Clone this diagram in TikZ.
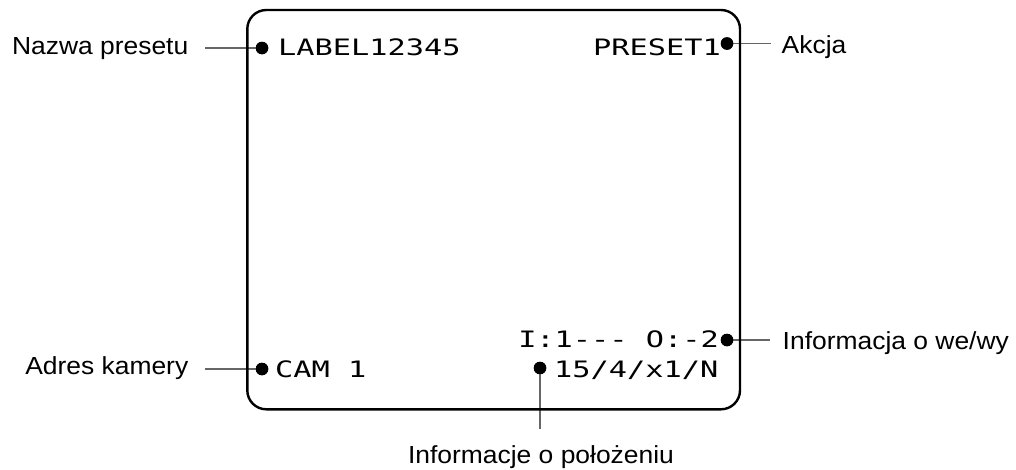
\documentclass[tikz,border=0pt]{standalone}
\usepackage{fontspec}
\setmainfont{Liberation Sans}
\newfontfamily\lblfont[FakeStretch=1.07]{Liberation Sans}
\newfontfamily\osdfont[FakeStretch=1.34]{DejaVu Sans Mono}
\begin{document}
\begin{tikzpicture}[x=1pt,y=-1pt,
  lbl/.style={inner sep=0pt,font=\lblfont\fontsize{24.7}{30}\selectfont},
  osd/.style={inner sep=0pt,font=\osdfont\fontsize{22.6}{27}\selectfont},
  dot/.style={circle,fill=black,inner sep=0pt,minimum size=12.5pt},
  leader/.style={draw=black!60,line width=1.4pt},
  frame/.style={draw=black,line width=2.4pt,rounded corners=19pt}]
\useasboundingbox (0,0) rectangle (1016,469);
% dots
\node[dot] (d1) at (262,48) {};
\node[dot] (d2) at (727,43.5) {};
\node[dot] (d3) at (727,340) {};
\node[dot] (d4) at (262,369) {};
\node[dot] (d5) at (540,368) {};
% leader ends
\coordinate (c1) at (205,48);
\coordinate (c2) at (771,43.5);
\coordinate (c3) at (770,340);
\coordinate (c4) at (205,369);
\coordinate (c5) at (540,429);
\draw[leader] (c1) -- (d1);
\draw[leader] (d2) -- (c2);
\draw[leader] (d3) -- (c3);
\draw[leader] (c4) -- (d4);
\draw[leader] (d5) -- (c5);
% frame
\draw[frame] (247.3,10) rectangle (740,409.3);
\node[dot] at (d1) {};
\node[dot] at (d2) {};
\node[dot] at (d3) {};
\node[dot] at (d4) {};
\node[dot] at (d5) {};
% OSD texts
\node[osd,anchor=base west] (t1) at (278,55.5) {LABEL12345};
\node[osd,anchor=base east] (t2) at (721,55) {PRESET1};
\node[osd,anchor=base east] (t3) at (719,347) {I:1--- O:-2};
\node[osd,anchor=base west] (t4) at (275,377) {CAM 1};
\node[osd,anchor=base west] (t5) at (554,377) {15/4/x1/N};
% labels
\node[lbl,anchor=base east] (l1) at (188.5,54.3) {Nazwa presetu};
\node[lbl,anchor=base west] (l2) at (781.5,53.3) {Akcja};
\node[lbl,anchor=base west] (l3) at (782.5,349.3) {Informacja o we/wy};
\node[lbl,anchor=base east] (l4) at (188.5,374.3) {Adres kamery};
\node[lbl,anchor=base] (l5) at (541,463) {Informacje o położeniu};
\end{tikzpicture}
\end{document}
